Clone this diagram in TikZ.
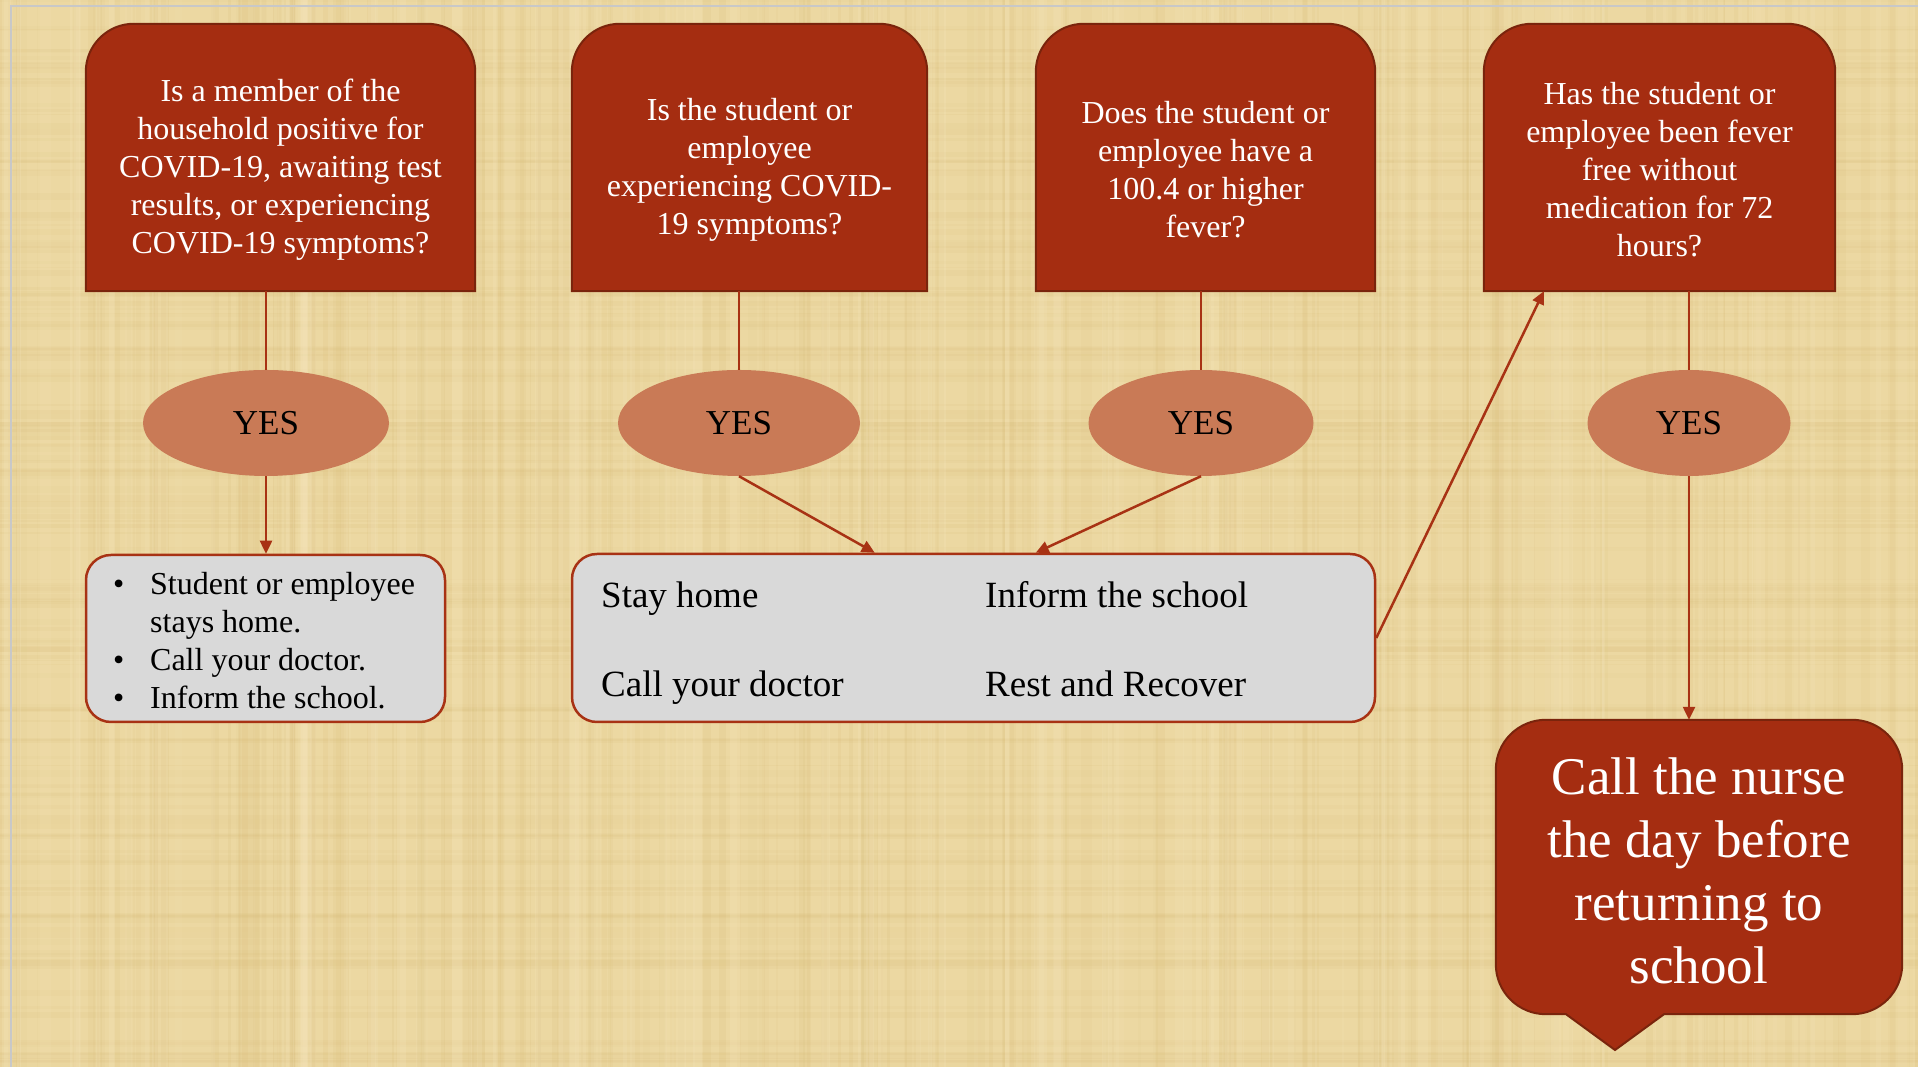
\documentclass[tikz,border=0pt]{standalone}
\usepackage{fontspec}
\setmainfont{Liberation Serif}
\usetikzlibrary{arrows.meta,calc,shapes.geometric}
\definecolor{paperbg}{RGB}{236,216,162}
\definecolor{paperdark}{RGB}{212,182,112}
\definecolor{paperlight}{RGB}{247,232,192}
\definecolor{framegray}{RGB}{200,200,200}
\definecolor{qred}{RGB}{165,45,17}
\definecolor{qborder}{RGB}{122,36,12}
\definecolor{yesfill}{RGB}{201,122,86}
\definecolor{boxgray}{RGB}{217,217,217}
\definecolor{linkred}{RGB}{168,50,20}
\newcommand\toproundshape[2]{%
  \filldraw[qshape] (#1.south west) -- ([yshift=-#2]#1.north west)
    arc[start angle=180,end angle=90,radius=#2]
    -- ([xshift=-#2]#1.north east)
    arc[start angle=90,end angle=0,radius=#2]
    -- (#1.south east) -- cycle;}
\begin{document}
\begin{tikzpicture}[x=1pt,y=1pt,
  qbox/.style={minimum width=#1, minimum height=267pt, inner sep=0pt, draw=none},
  qshape/.style={fill=qred, draw=qborder, line width=2pt},
  qtext/.style={text=white, align=center, inner sep=0pt, font=\fontsize{32}{38}\selectfont},
  yesnode/.style={ellipse, fill=yesfill, minimum width=#1, minimum height=106pt, inner sep=0pt, font=\fontsize{35}{40}\selectfont},
  graybox/.style={rounded corners=25pt, fill=boxgray, draw=linkred, line width=2.5pt, minimum height=168pt, inner sep=0pt},
  stem/.style={draw=linkred, line width=1.3pt},
  link/.style={draw=linkred, line width=2.5pt, -{Triangle[length=13pt,width=12pt]}},
  btext/.style={inner sep=0pt, anchor=base west, font=\fontsize{37}{44}\selectfont},
]
\useasboundingbox (0,0) rectangle (1918,1067);
% paper background
\fill[paperbg] (0,0) rectangle (1918,1067);
\pgfmathsetseed{7}
\foreach \i in {1,...,220}{
  \pgfmathsetmacro\xx{rnd*1918}
  \pgfmathsetmacro\ww{1+rnd*8}
  \pgfmathsetmacro\op{0.04+rnd*0.10}
  \fill[paperdark, opacity=\op] (\xx,0) rectangle ++(\ww,1067);
}
\foreach \i in {1,...,160}{
  \pgfmathsetmacro\yy{rnd*1067}
  \pgfmathsetmacro\hh{1+rnd*6}
  \pgfmathsetmacro\op{0.04+rnd*0.08}
  \fill[paperdark, opacity=\op] (0,\yy) rectangle ++(1918,\hh);
}
\foreach \i in {1,...,120}{
  \pgfmathsetmacro\xx{rnd*1918}
  \pgfmathsetmacro\ww{1+rnd*10}
  \pgfmathsetmacro\op{0.08+rnd*0.15}
  \fill[paperlight, opacity=\op] (\xx,0) rectangle ++(\ww,1067);
}
\draw[framegray, line width=1.8pt] (11,0) -- (11,1061) -- (1918,1061);

% question boxes
\node[qbox=389pt] (q1) at (280.5,909.5) {};
\node[qbox=355pt] (q2) at (749.5,909.5) {};
\node[qbox=339pt] (q3) at (1205.5,909.5) {};
\node[qbox=351pt] (q4) at (1659.5,909.5) {};
\toproundshape{q1}{48pt}
\toproundshape{q2}{48pt}
\toproundshape{q3}{48pt}
\toproundshape{q4}{48pt}
\node[qtext] (q1t) at (280.5,897) {Is a member of the\\household positive for\\COVID-19, awaiting test\\results, or experiencing\\COVID-19 symptoms?};
\node[qtext] (q2t) at (749.5,897) {Is the student or\\employee\\experiencing COVID-\\19 symptoms?};
\node[qtext] (q3t) at (1205.5,897) {Does the student or\\employee have a\\100.4 or higher\\fever?};
\node[qtext] (q4t) at (1659.5,897) {Has the student or\\employee been fever\\free without\\medication for 72\\hours?};

% YES ellipses
\node[yesnode=246pt] (y1) at (266,644) {YES};
\node[yesnode=242pt] (y2) at (739,644) {YES};
\node[yesnode=225pt] (y3) at (1201,644) {YES};
\node[yesnode=203pt] (y4) at (1689,644) {YES};

% stems from questions to YES
\draw[stem] (y1.north) -- (y1.north |- q1.south);
\draw[stem] (y2.north) -- (y2.north |- q2.south);
\draw[stem] (y3.north) -- (y3.north |- q3.south);
\draw[stem] (y4.north) -- (y4.north |- q4.south);

% gray boxes
\node[graybox, draw, minimum width=359pt, minimum height=167pt] (a) at (265.5,428.5) {};
\node[graybox, draw, minimum width=803pt] (b) at (973.5,429) {};

\node[inner sep=0pt, anchor=base west, font=\fontsize{32}{38}\selectfont] (at) at (113,472)
  {\begin{tabular}[t]{@{}p{37pt}@{}l@{}}\textbullet & Student or employee\\ & stays home.\\ \textbullet & Call your doctor.\\ \textbullet & Inform the school.\end{tabular}};

\node[btext] (b1) at (601,459) {Stay home};
\node[btext] (b2) at (985,459) {Inform the school};
\node[btext] (b3) at (601,370) {Call your doctor};
\node[btext] (b4) at (985,370) {Rest and Recover};

% callout
\node[inner sep=0pt, minimum width=406pt, minimum height=294pt] (c) at (1699,200) {};
\coordinate (ctip) at (1615,17);
\filldraw[fill=qred, draw=qborder, line width=2pt]
  ([xshift=-133pt]c.south) -- (ctip) -- ([xshift=-35pt]c.south)
  -- ([xshift=-50pt]c.south east) arc[start angle=270,end angle=360,radius=50pt]
  -- ([yshift=-50pt]c.north east) arc[start angle=0,end angle=90,radius=50pt]
  -- ([xshift=50pt]c.north west) arc[start angle=90,end angle=180,radius=50pt]
  -- ([yshift=50pt]c.south west) arc[start angle=180,end angle=270,radius=50pt]
  -- cycle;
\node[text=white, align=center, inner sep=0pt, font=\fontsize{53}{63}\selectfont] (ct) at (1699,196)
  {Call the nurse\\the day before\\returning to\\school};

% arrows
\draw[link] (y1.south) -- (y1.south |- a.north);
\draw[link] (y2.south) -- ([xshift=304pt]b.north west);
\draw[link] (y3.south) -- ([xshift=465pt]b.north west);
\draw[link] (b.east) -- ([xshift=60pt]q4.south west);
\draw[link] (y4.south) -- (y4.south |- c.north);
\end{tikzpicture}
\end{document}
